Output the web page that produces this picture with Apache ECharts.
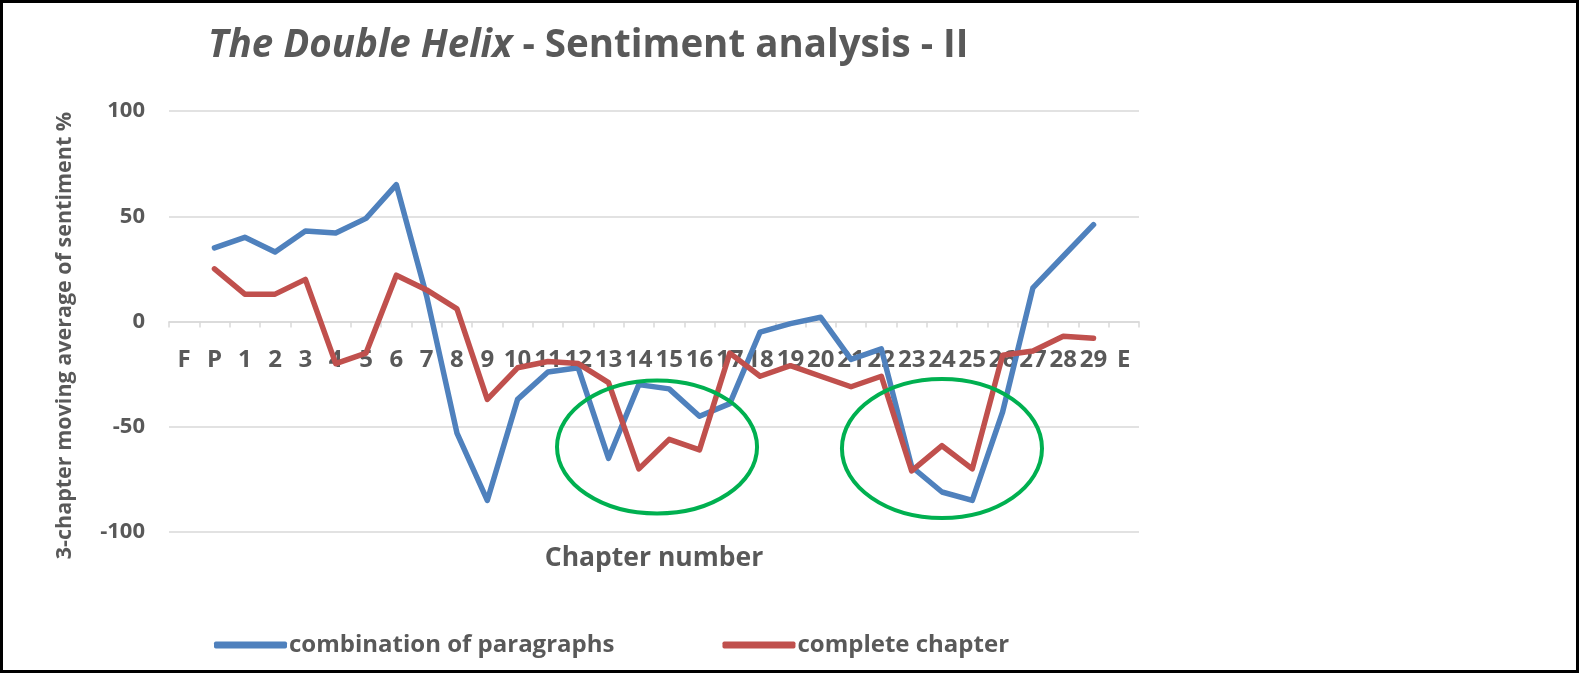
<!DOCTYPE html>
<html>
<head>
<meta charset="utf-8">
<script src="https://cdn.jsdelivr.net/npm/echarts@6/dist/echarts.min.js"></script>
<style>
html,body{margin:0;padding:0;background:#fff;}
#chart{width:1580px;height:677px;}
</style>
</head>
<body>
<div id="chart"></div>
<script>
const categories = ['F','P','1','2','3','4','5','6','7','8','9','10','11','12','13','14','15','16','17','18','19','20','21','22','23','24','25','26','27','28','29','E'];
const paragraphsValues = [null, 35, 40, 33, 43, 42, 49, 65, 12, -53, -85, -37, -24, -22, -65, -30, -32, -45, -39, -5, -1, 2, -18, -13, -69, -81, -85, -43, 16, 31, 46, null];
const chapterValues = [null, 25, 13, 13, 20, -20, -15, 22, 15, 6, -37, -22, -19, -20, -29, -70, -56, -61, -15, -26, -21, -26, -31, -26, -71, -59, -70, -16, -14, -7, -8, null];
const yTicks = [-100, -50, 0, 50, 100];
const seriesNames = ['combination of paragraphs', 'complete chapter'];
// highlight ellipses: [center category index, center value, half-width in categories, half-height in value units]
const highlightEllipses = [[15.6, -59.6, 3.3, 31.6], [25.0, -60.3, 3.3, 33.0]];

const FONT = '"Open Sans", sans-serif';
const GREY = '#595959';
const GRID = {left: 169, right: 441, top: 111, bottom: 145};
const chart = echarts.init(document.getElementById('chart'), null, {renderer: 'canvas'});

const plotHeight = 677 - GRID.top - GRID.bottom;
// place the category axis where the value axis crosses zero
const zeroOffset = -plotHeight * (0 - yTicks[0]) / (yTicks[yTicks.length - 1] - yTicks[0]);

const option = {
  backgroundColor: '#ffffff',
  animation: false,
  title: {
    text: '{i|The Double Helix}{b| - Sentiment analysis - II}',
    left: 203,
    top: 22,
    textStyle: {
      rich: {
        i: {fontFamily: FONT, fontStyle: 'italic', fontWeight: 'bold', fontSize: 38.5, color: GREY},
        b: {fontFamily: FONT, fontWeight: 'bold', fontSize: 38.5, color: GREY}
      }
    }
  },
  legend: {
    data: seriesNames,
    left: 209,
    top: 628,
    itemWidth: 73,
    itemHeight: 7,
    itemGap: 108,
    icon: 'roundRect',
    textStyle: {fontFamily: FONT, fontWeight: 'bold', fontSize: 24, color: GREY, padding: [0, 0, 0, -3]}
  },
  grid: Object.assign({containLabel: false, outerBoundsMode: 'none'}, GRID),
  xAxis: {
    type: 'category',
    data: categories,
    boundaryGap: true,
    position: 'bottom',
    offset: zeroOffset,
    name: 'Chapter number',
    nameLocation: 'middle',
    nameGap: 223,
    nameTextStyle: {fontFamily: FONT, fontWeight: 'bold', fontSize: 26.5, color: GREY},
    axisLine: {onZero: false, lineStyle: {color: '#d9d9d9', width: 1.5}},
    axisTick: {show: true, length: 6, lineStyle: {color: '#d9d9d9', width: 1.5}},
    axisLabel: {interval: 0, margin: 27, fontFamily: FONT, fontWeight: 'bold', fontSize: 24, color: GREY},
    splitLine: {show: false}
  },
  yAxis: {
    type: 'value',
    min: yTicks[0],
    max: yTicks[yTicks.length - 1],
    interval: 50,
    name: '3-chapter moving average of sentiment %',
    nameLocation: 'middle',
    nameGap: 93,
    nameTextStyle: {fontFamily: FONT, fontWeight: 'bold', fontSize: 21.5, color: GREY, padding: [0, 28, 0, 0]},
    axisLine: {show: false},
    axisTick: {show: false},
    axisLabel: {margin: 24, fontFamily: FONT, fontWeight: 'bold', fontSize: 22, color: GREY},
    splitLine: {lineStyle: {color: '#d9d9d9', width: 1.5}}
  },
  series: [
    {
      name: seriesNames[0], type: 'line', data: paragraphsValues, symbol: 'none', connectNulls: false,
      itemStyle: {color: '#4F81BD'},
      lineStyle: {color: '#4F81BD', width: 5.5, join: 'round', cap: 'round'}, z: 3
    },
    {
      name: seriesNames[1], type: 'line', data: chapterValues, symbol: 'none', connectNulls: false,
      itemStyle: {color: '#C0504D'},
      lineStyle: {color: '#C0504D', width: 5.5, join: 'round', cap: 'round'}, z: 4
    }
  ]
};
chart.setOption(option);

function drawOverlays() {
  const p0 = chart.convertToPixel({xAxisIndex: 0, yAxisIndex: 0}, [0, 0]);
  const p1 = chart.convertToPixel({xAxisIndex: 0, yAxisIndex: 0}, [1, 50]);
  const dx = p1[0] - p0[0];
  const dy = (p0[1] - p1[1]) / 50;
  const elements = highlightEllipses.map(function (e) {
    return {
      type: 'ellipse',
      shape: {cx: p0[0] + e[0] * dx, cy: p0[1] - e[1] * dy, rx: e[2] * dx, ry: e[3] * dy},
      style: {fill: 'none', stroke: '#00B050', lineWidth: 4},
      z: 10
    };
  });
  elements.push({
    type: 'rect',
    shape: {x: 1.5, y: 1.5, width: 1576, height: 670},
    style: {fill: 'none', stroke: '#000000', lineWidth: 3},
    z: 20
  });
  chart.setOption({graphic: elements});
}
drawOverlays();
</script>
</body>
</html>
